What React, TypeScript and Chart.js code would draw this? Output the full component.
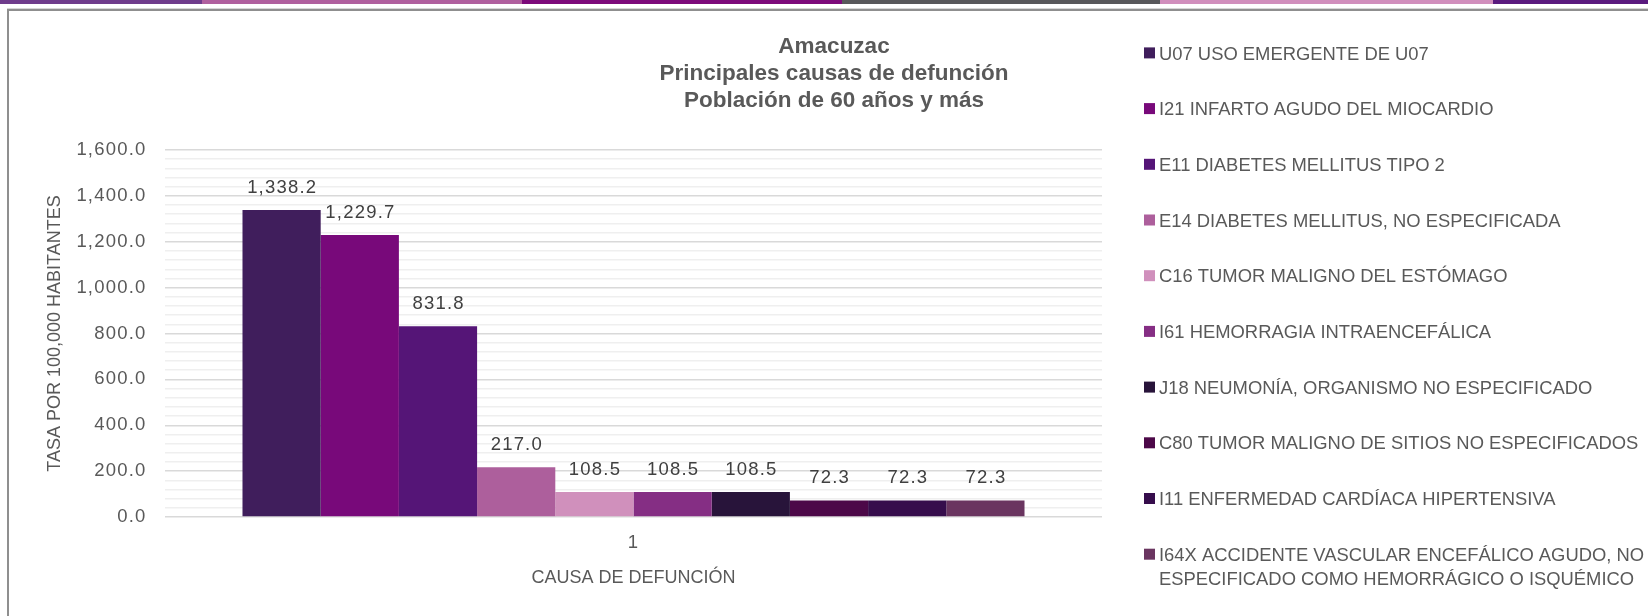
import React, { useEffect, useRef } from 'react';
import { Chart, registerables } from 'chart.js';

Chart.register(...registerables);

// ---------- data ----------
const titleLines = ['Amacuzac', 'Principales causas de defunción', 'Población de 60 años y más'];
const categories = ['1'];
const causes = [
  'U07 USO EMERGENTE DE U07',
  'I21 INFARTO AGUDO DEL MIOCARDIO',
  'E11 DIABETES MELLITUS TIPO 2',
  'E14 DIABETES MELLITUS, NO ESPECIFICADA',
  'C16 TUMOR MALIGNO DEL ESTÓMAGO',
  'I61 HEMORRAGIA INTRAENCEFÁLICA',
  'J18 NEUMONÍA, ORGANISMO NO ESPECIFICADO',
  'C80 TUMOR MALIGNO DE SITIOS NO ESPECIFICADOS',
  'I11 ENFERMEDAD CARDÍACA HIPERTENSIVA',
  'I64X ACCIDENTE VASCULAR ENCEFÁLICO AGUDO, NO ESPECIFICADO COMO HEMORRÁGICO O ISQUÉMICO',
];
const rates = [1338.2, 1229.7, 831.8, 217.0, 108.5, 108.5, 108.5, 72.3, 72.3, 72.3];
const barColors = [
  '#401E5C', '#78097A', '#551577', '#AD5F9C', '#D090BC',
  '#852E84', '#28143A', '#4C0848', '#360D4C', '#6A3560',
];
const yAxisTitle = 'TASA POR 100,000 HABITANTES';
const xAxisTitle = 'CAUSA DE DEFUNCIÓN';
const yMin = 0;
const yMax = 1600;
const yMajorStep = 200;
const yMinorStep = 40;

// decorative header strip
const stripColors = ['#6F3C8C', '#B0609F', '#7C0A7A', '#58585B', '#D18FBD', '#5A1A7E'];
const stripWidths = [202, 320, 320, 318, 333, 155];

// ---------- styling ----------
const FONT = '"Liberation Sans", Arial, sans-serif';
const TEXT = '#595959';
const LABEL = '#404040';
const NUM_SPACING = '1.2px';
const NUM_SIZE = 18.5;

const fmt = (v: number) =>
  v.toLocaleString('en-US', { minimumFractionDigits: 1, maximumFractionDigits: 1 });

const decorPlugin = {
  id: 'decor',
  beforeDraw(chart: any) {
    (chart.ctx as any).letterSpacing = NUM_SPACING;
  },
  beforeDatasetsDraw(chart: any) {
    (chart.ctx as any).letterSpacing = '0px';
  },
  afterDatasetsDraw(chart: any) {
    const ctx = chart.ctx as CanvasRenderingContext2D;
    ctx.save();
    (ctx as any).letterSpacing = NUM_SPACING;
    ctx.font = `${NUM_SIZE}px ${FONT}`;
    ctx.fillStyle = LABEL;
    ctx.textAlign = 'center';
    ctx.textBaseline = 'alphabetic';
    chart.data.datasets.forEach((ds: any, i: number) => {
      const meta = chart.getDatasetMeta(i);
      meta.data.forEach((el: any, j: number) => {
        const v = ds.data[j] as number;
        ctx.fillText(fmt(v), el.x + 0.6, el.y - 17);
      });
    });
    ctx.restore();
  },
  afterDraw(chart: any) {
    const ctx = chart.ctx as CanvasRenderingContext2D;
    const area = chart.chartArea;
    ctx.save();
    (ctx as any).letterSpacing = '0px';

    // title
    ctx.font = `bold 22.5px ${FONT}`;
    ctx.fillStyle = TEXT;
    ctx.textAlign = 'center';
    ctx.textBaseline = 'alphabetic';
    titleLines.forEach((t, i) => ctx.fillText(t, 834, 53 + i * 27));

    // axis titles
    ctx.font = `18px ${FONT}`;
    ctx.fillText(xAxisTitle, (area.left + area.right) / 2, 582.5);
    ctx.save();
    ctx.translate(59.9, (area.top + area.bottom) / 2);
    ctx.rotate(-Math.PI / 2);
    ctx.fillText(yAxisTitle, 0, 0);
    ctx.restore();

    // legend
    ctx.textAlign = 'left';
    ctx.font = `18.4px ${FONT}`;
    const maxW = 495;
    chart.data.datasets.forEach((ds: any, i: number) => {
      const cy = 52.9 + i * 55.7;
      ctx.fillStyle = ds.backgroundColor;
      ctx.fillRect(1144, cy - 5.5, 11, 11);
      const words = String(ds.label).split(' ');
      const lines: string[] = [];
      let line = '';
      words.forEach((w) => {
        const test = line ? line + ' ' + w : w;
        if (line && ctx.measureText(test).width > maxW) {
          lines.push(line);
          line = w;
        } else {
          line = test;
        }
      });
      if (line) lines.push(line);
      ctx.fillStyle = TEXT;
      lines.forEach((l, k) => ctx.fillText(l, 1159, cy + 6.6 + k * 24.5));
    });
    ctx.restore();
  },
};

function ChartView() {
  const ref = useRef<HTMLCanvasElement | null>(null);
  useEffect(() => {
    if (!ref.current) return;
    const chart = new Chart(ref.current, {
      type: 'bar',
      data: {
        labels: categories,
        datasets: causes.map((label, i) => ({
          label,
          data: [rates[i]],
          backgroundColor: barColors[i],
          borderWidth: 0,
          categoryPercentage: 0.8346,
          barPercentage: 1,
        })),
      },
      options: {
        responsive: false,
        animation: false,
        devicePixelRatio: 1,
        layout: { padding: { left: 0, right: 546, top: 150, bottom: 0 } },
        plugins: {
          legend: { display: false },
          title: { display: false },
          tooltip: { enabled: false },
        },
        scales: {
          x: {
            type: 'category',
            grid: { display: false, drawTicks: false },
            border: { display: false },
            ticks: {
              color: TEXT,
              font: { family: FONT, size: NUM_SIZE },
              padding: 15,
            },
            afterFit: (s: any) => {
              s.height = 99;
            },
          },
          y: {
            type: 'linear',
            min: yMin,
            max: yMax,
            grid: {
              drawTicks: false,
              lineWidth: 1.5,
              color: (c: any) =>
                c.tick && Math.round(c.tick.value) % yMajorStep === 0 ? '#d9d9d9' : '#efefef',
            },
            border: { display: false },
            ticks: {
              stepSize: yMinorStep,
              maxTicksLimit: 1000,
              autoSkip: false,
              color: TEXT,
              font: { family: FONT, size: NUM_SIZE },
              padding: 18.5,
              callback: (value: any) => {
                const v = Math.round(Number(value));
                return v % yMajorStep === 0 ? fmt(v) : '';
              },
            },
            afterFit: (s: any) => {
              s.width = 165;
            },
          },
        },
      },
      plugins: [decorPlugin],
    } as any);
    return () => chart.destroy();
  }, []);
  return (
    <canvas
      ref={ref}
      width={1648}
      height={616}
      style={{ position: 'absolute', left: 0, top: 0, width: 1648, height: 616 }}
    />
  );
}

export default function App() {
  useEffect(() => {
    document.body.style.margin = '0';
    document.body.style.overflow = 'hidden';
  }, []);
  return (
    <div
      style={{
        position: 'absolute',
        left: 0,
        top: 0,
        width: 1648,
        height: 616,
        overflow: 'hidden',
        background: '#ffffff',
      }}
    >
      <div style={{ position: 'absolute', left: 0, top: 0, height: 4, width: 1648, display: 'flex' }}>
        {stripColors.map((c, i) => (
          <div key={i} style={{ width: stripWidths[i], height: 4, background: c, flexShrink: 0 }} />
        ))}
      </div>
      <div
        style={{
          position: 'absolute',
          left: 7,
          top: 9,
          width: 1700,
          height: 700,
          borderTop: '2px solid #8f8f8f',
          borderLeft: '2px solid #8f8f8f',
          boxShadow: '0 -1px 0 #d6d6d6',
        }}
      />
      <ChartView />
    </div>
  );
}
